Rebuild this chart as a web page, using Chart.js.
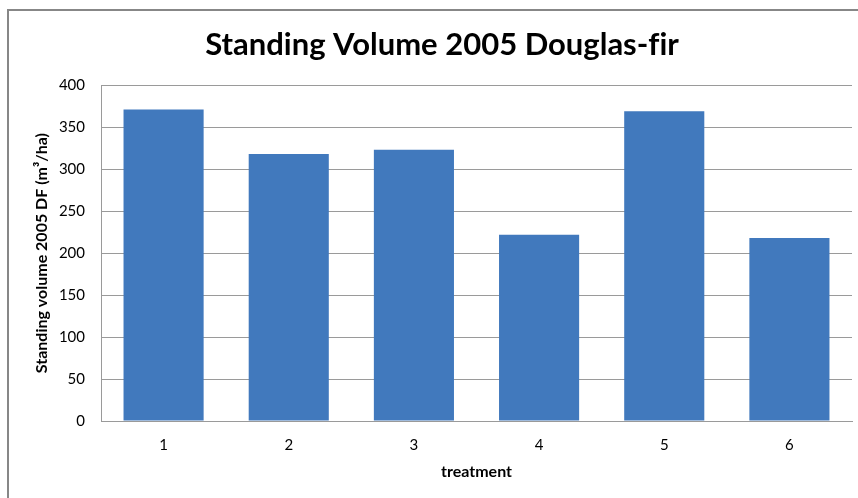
<!DOCTYPE html>
<html>
<head>
<meta charset="utf-8">
<script src="https://cdn.jsdelivr.net/npm/chart.js@4"></script>
<style>
  html, body { margin: 0; padding: 0; background: #fff; }
  #wrap { width: 858px; height: 498px; }
</style>
</head>
<body>
<div id="wrap"><canvas id="myChart" width="858" height="498"></canvas></div>
<script>
const treatments = ["1", "2", "3", "4", "5", "6"];
const volume2005 = [371, 318, 323, 222, 369, 218];
const yTicks = [0, 50, 100, 150, 200, 250, 300, 350, 400];

const ctx = document.getElementById("myChart");

// white background plus the grey frame at the top and left edges
const frame = {
  id: "frame",
  beforeDraw(chart) {
    const c = chart.ctx;
    c.save();
    c.fillStyle = "#fff";
    c.fillRect(0, 0, chart.width, chart.height);
    c.strokeStyle = "#878787";
    c.lineWidth = 2;
    c.beginPath();
    c.moveTo(8, chart.height);
    c.lineTo(8, 10);
    c.lineTo(chart.width, 10);
    c.stroke();
    c.restore();
  },
};

new Chart(ctx, {
  type: "bar",
  data: {
    labels: treatments,
    datasets: [
      {
        label: "Standing volume 2005 DF",
        data: volume2005,
        backgroundColor: "#4179BD",
        borderWidth: 0,
        barPercentage: 0.64,
        categoryPercentage: 1,
      },
    ],
  },
  options: {
    responsive: false,
    animation: false,
    layout: { padding: { top: 10, left: 32, right: 6, bottom: 0 } },
    plugins: {
      legend: { display: false },
      tooltip: { enabled: false },
      title: {
        display: true,
        // zero-width non-joiner keeps "f" and "i" apart (no ligature)
        text: "Standing Volume 2005 Douglas-f\u200Cir",
        color: "#000",
        font: { family: "Lato", size: 31, weight: "bold" },
        padding: { top: 16, bottom: 22 },
      },
    },
    scales: {
      x: {
        grid: { display: false, drawTicks: false },
        border: { color: "#9a9a9a", width: 1 },
        ticks: {
          color: "#000",
          font: { family: "Lato", size: 15 },
          padding: 15,
        },
        title: {
          display: true,
          text: "treatment",
          color: "#000",
          font: { family: "Lato", size: 16, weight: "bold" },
          padding: { top: 0, bottom: 17 },
        },
        afterFit(scale) {
          scale.height = 77;
        },
      },
      y: {
        min: 0,
        max: 400,
        afterBuildTicks(scale) {
          scale.ticks = yTicks.map((v) => ({ value: v }));
        },
        grid: { color: "#9a9a9a", lineWidth: 1, drawTicks: false },
        border: { color: "#9a9a9a", width: 1 },
        ticks: {
          color: "#000",
          font: { family: "Lato", size: 15 },
          padding: 16,
        },
        title: {
          display: true,
          text: "Standing volume 2005 DF (m³/ha)",
          color: "#000",
          font: { family: "Lato", size: 16, weight: "bold" },
          padding: { top: 0, bottom: 0 },
        },
        afterFit(scale) {
          scale.width = 69;
        },
      },
    },
  },
  plugins: [frame],
});
</script>
</body>
</html>
